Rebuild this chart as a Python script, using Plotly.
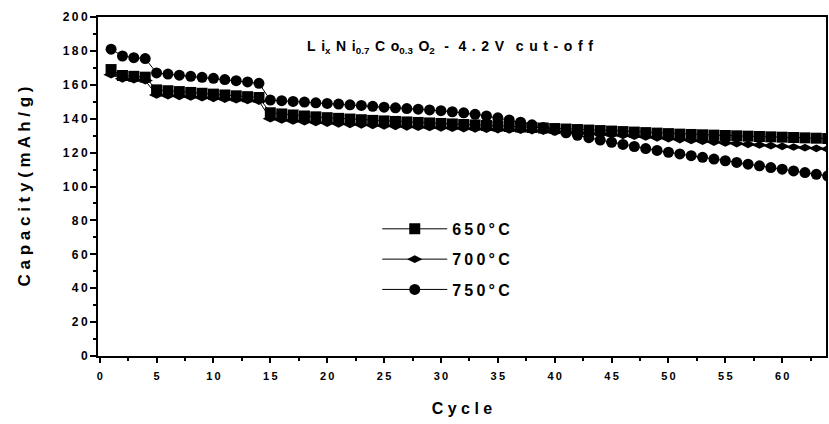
import plotly.graph_objects as go

# Discharge capacity per cycle for LixNi0.7Co0.3O2 calcined at three temperatures
cycles = list(range(1, 65))

cap_650 = [
    169.0, 165.5, 165.0, 164.5,
    157.0, 156.5, 156.0, 155.5, 155.0, 154.5, 154.0, 153.5, 153.0, 152.5,
    143.5, 142.8, 142.2, 141.6, 141.1, 140.6, 140.2, 139.8, 139.4, 139.0,
    138.7, 138.4, 138.1, 137.8, 137.5, 137.2, 136.9, 136.6, 136.3, 136.0,
    135.7, 135.4, 135.1, 134.8, 134.5, 134.2, 133.9, 133.6, 133.3, 133.0,
    132.7, 132.4, 132.1, 131.8, 131.5, 131.2, 130.9, 130.7, 130.5, 130.3,
    130.1, 129.9, 129.7, 129.5, 129.3, 129.1, 128.9, 128.7, 128.5, 128.3,
]

cap_700 = [
    166.0, 163.5, 163.0, 162.5,
    154.0, 153.6, 153.2, 152.8, 152.4, 152.0, 151.6, 151.2, 150.8, 150.4,
    140.0, 139.3, 138.7, 138.2, 137.8, 137.4, 137.0, 136.7, 136.4, 136.1,
    135.8, 135.5, 135.2, 135.0, 134.8, 134.6, 134.4, 134.2, 134.0, 133.8,
    133.6, 133.4, 133.2, 133.0, 132.7, 132.4, 132.1, 131.8, 131.4, 131.0,
    130.6, 130.2, 129.7, 129.2, 128.7, 128.2, 127.7, 127.2, 126.7, 126.2,
    125.7, 125.3, 124.9, 124.5, 124.1, 123.7, 123.3, 122.9, 122.5, 122.1,
]

cap_750 = [
    181.0, 177.0, 176.0, 175.5,
    167.0, 166.3, 165.7, 165.0, 164.4, 163.8, 163.1, 162.4, 161.7, 160.9,
    151.0, 150.6, 150.2, 149.8, 149.4, 149.0, 148.6, 148.2, 147.8, 147.3,
    146.8, 146.4, 146.0, 145.6, 145.2, 144.7, 144.1, 143.5, 142.6, 141.6,
    140.5, 139.3, 137.9, 136.4, 134.8, 133.2, 131.7, 130.2, 128.8, 127.4,
    126.1, 124.8, 123.6, 122.4, 121.3, 120.2, 119.2, 118.2, 117.2, 116.2,
    115.2, 114.2, 113.2, 112.2, 111.2, 110.2, 109.2, 108.2, 107.2, 106.2,
]

series_names = ["650°C", "700°C", "750°C"]
series_symbols = ["square", "diamond-wide", "circle"]

x_tick_vals = [0, 5, 10, 15, 20, 25, 30, 35, 40, 45, 50, 55, 60]
y_tick_vals = [0, 20, 40, 60, 80, 100, 120, 140, 160, 180, 200]

TS = "\u2009"  # thin space used to open up the letter spacing


def spaced(s, gap=TS):
    return gap.join(list(s))


FONT = "Liberation Sans"

fig = go.Figure()
for name, sym, vals in zip(series_names, series_symbols, [cap_650, cap_700, cap_750]):
    fig.add_trace(go.Scatter(
        x=cycles, y=vals, mode="lines+markers",
        name=spaced(name), legendgroup=name,
        line=dict(color="black", width=1),
        marker=dict(symbol=sym, size=11, color="black", line=dict(width=0)),
    ))

G2 = TS + TS
title_text = (
    "L" + G2 + "i<sub>x</sub>" + G2 + "N" + G2 + "i<sub>0.7</sub>" + G2 + "C" + G2 + "o<sub>0.3</sub>"
    + G2 + "O<sub>2</sub>" + G2 + " - " + G2 + spaced("4.2V", G2) + "   " + spaced("cut-off", G2)
)

fig.add_annotation(
    x=0.484, y=0.911, xref="paper", yref="paper", yanchor="middle", xanchor="center",
    text="<b>" + title_text + "</b>", showarrow=False,
    font=dict(family=FONT, size=14, color="black"),
)

fig.update_layout(
    width=829, height=424,
    margin=dict(l=98, r=1, t=17, b=68),
    paper_bgcolor="white", plot_bgcolor="white",
    showlegend=True,
    legend=dict(
        x=0.3836, y=0.425, xanchor="left", yanchor="top",
        font=dict(family=FONT, size=16, color="black", weight="bold"),
        bgcolor="rgba(0,0,0,0)", tracegroupgap=6.5, itemwidth=65,
    ),
    font=dict(family=FONT, color="black"),
)

fig.update_xaxes(
    range=[-0.15, 63.85],
    tickmode="array", tickvals=x_tick_vals, ticktext=[spaced(str(v)) for v in x_tick_vals],
    ticks="outside", ticklen=5, tickwidth=2, tickcolor="black", ticklabelstandoff=4,
    minor=dict(dtick=2.5, ticks="outside", ticklen=3, tickwidth=2, tickcolor="black"),
    showline=True, linecolor="black", linewidth=2, mirror=True,
    showgrid=False, zeroline=False,
    tickfont=dict(family=FONT, size=11, color="black", weight="bold"),
    title=dict(text=spaced("Cycle", " "), standoff=22,
               font=dict(family=FONT, size=16, color="black", weight="bold")),
)

fig.update_yaxes(
    range=[0, 200],
    tickmode="array", tickvals=y_tick_vals, ticktext=[spaced(str(v)) for v in y_tick_vals],
    ticks="outside", ticklen=6, tickwidth=2, tickcolor="black",
    minor=dict(dtick=10, ticks="outside", ticklen=3, tickwidth=1.5, tickcolor="black"),
    showline=True, linecolor="black", linewidth=2, mirror=True,
    showgrid=False, zeroline=False,
    tickfont=dict(family=FONT, size=12, color="black", weight="bold"),
    title=dict(text=spaced("Capacity(mAh/g)", " "), standoff=28,
               font=dict(family=FONT, size=17, color="black", weight="bold")),
)

fig.write_html("out.html")
